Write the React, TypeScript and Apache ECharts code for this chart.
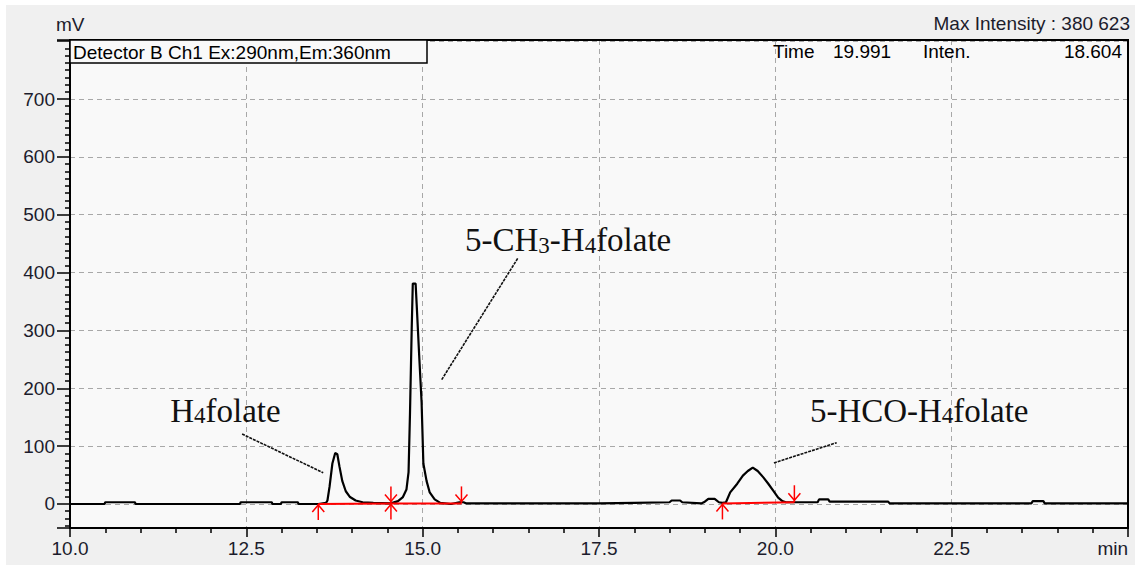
import React, { useEffect, useRef } from "react";
import * as echarts from "echarts";

// ---- Chromatogram trace (retention time in min, signal in mV) ----
const traceTime = [
  10.0, 10.49, 10.5, 10.92, 10.93, 12.41, 12.42, 12.86, 12.87, 12.99, 13.0, 13.23, 13.24, 13.52,
  13.63, 13.65, 13.68, 13.72, 13.76, 13.79, 13.82, 13.86, 13.91, 13.97, 14.05, 14.15, 14.3, 14.55,
  14.65, 14.72, 14.77, 14.8, 14.82, 14.845, 14.86, 14.9, 14.915, 14.95, 14.985, 15.01, 15.055, 15.1,
  15.17, 15.25, 15.4, 15.52, 15.58, 15.62, 16.5, 17.5, 18.0, 18.5, 18.53, 18.65, 18.68, 18.95, 19.0,
  19.05, 19.14, 19.2, 19.25, 19.3, 19.36, 19.46, 19.54, 19.61, 19.68, 19.75, 19.83, 19.9, 19.97,
  20.04, 20.1, 20.15, 20.6, 20.62, 20.75, 20.77, 21.6, 21.62, 23.63, 23.65, 23.8, 23.82, 25.0,
];
const traceMv = [
  0, 0, 3, 3, 0, 0, 3, 3, 0, 0, 3, 3, 0, 0,
  2, 6, 30, 70, 88, 86, 65, 40, 22, 12, 6, 3, 2, 1,
  5, 12, 25, 55, 155, 305, 381, 381, 345, 258, 175, 70, 40, 20,
  8, 2, 0, 3, 3, 1, 1, 1, 2, 3, 6, 6, 3, 1, 4,
  9, 9, 3, 2, 3, 20, 35, 49, 57, 63, 57, 46, 35, 23,
  11, 5, 3, 3, 8, 8, 4, 4, 1, 1, 5, 5, 1, 1,
];

// ---- Integration baselines (red) ----
const baselineStartTime = [13.52, 14.55, 19.25];
const baselineEndTime = [14.55, 15.55, 20.27];
const baselineStartMv = [0, 1, 1];
const baselineEndMv = [1, 1, 3];

// ---- Integration marks: 0 = peak start, 1 = split, 2 = peak end ----
const markTime = [13.52, 14.55, 15.55, 19.25, 20.27];
const markMv = [0, 1, 1, 1, 3];
const markKind = [0, 1, 2, 0, 2];

// ---- Peak annotations ----
const annotationText = ["H{s|4}folate", "5-CH{s|3}-H{s|4}folate", "5-HCO-H{s|4}folate"];
const annotationTime = [11.42, 15.6, 20.49];
const annotationMv = [161, 456, 161];
const leaderFromTime = [12.44, 15.27, 19.98];
const leaderFromMv = [121, 215, 71];
const leaderToTime = [13.59, 16.35, 20.87];
const leaderToMv = [54, 425, 106];

// ---- Axis tick labels ----
const xTickLabels = ["10.0", "12.5", "15.0", "17.5", "20.0", "22.5", "min"];
const yTickValues = [0, 100, 200, 300, 400, 500, 600, 700];

// ---- Header texts ----
const detectorLabel = "Detector B Ch1 Ex:290nm,Em:360nm";
const maxIntensityLabel = "Max Intensity : 380 623";
const cursorTime = "19.991";
const cursorInten = "18.604";

const W = 1135;
const H = 565;
const GRID = { left: 70, top: 40, right: 7, bottom: 37 };
const SANS = "'Liberation Sans', Arial, sans-serif";
const SERIF = "'Liberation Serif', 'Times New Roman', serif";
const TXT = "#1c1c2c";

export default function App() {
  const ref = useRef<HTMLDivElement>(null);

  useEffect(() => {
    if (!ref.current) return;
    const chart = echarts.init(ref.current, undefined, { renderer: "svg" });

    const trace = traceTime.map((t, i) => [t, traceMv[i]]);
    const marks = markTime.map((t, i) => [t, markMv[i], markKind[i]]);
    const annotations = annotationText.map((_, i) => [annotationTime[i], annotationMv[i], i]);

    const redStyle = { stroke: "#ff0000", lineWidth: 1.5, fill: null };

    const plotW = W - GRID.left - GRID.right;
    const plotH = H - GRID.top - GRID.bottom;

    const option: any = {
      animation: false,
      backgroundColor: "#ffffff",
      grid: {
        left: GRID.left,
        top: GRID.top,
        right: GRID.right,
        bottom: GRID.bottom,
        show: true,
        backgroundColor: "#f9f9f9",
        borderWidth: 0,
      },
      xAxis: {
        type: "value",
        min: 10,
        max: 25,
        interval: 2.5,
        axisLine: { show: true, onZero: false, lineStyle: { color: "#000", width: 2 } },
        axisTick: { show: true, length: 9, lineStyle: { color: "#000", width: 1.5 } },
        minorTick: { show: true, splitNumber: 5, length: 5, lineStyle: { color: "#000", width: 1.5 } },
        splitLine: { show: true, lineStyle: { color: "#a8a8a8", type: [5, 4], width: 1 } },
        axisLabel: {
          color: TXT,
          fontFamily: SANS,
          fontSize: 19,
          margin: 11,
          alignMaxLabel: "right",
          formatter: (_v: number, idx: number) => xTickLabels[idx] ?? "",
        },
      },
      yAxis: {
        type: "value",
        min: -41.5,
        max: 802,
        splitNumber: 8,
        minInterval: 100,
        maxInterval: 100,
        axisLine: { show: true, onZero: false, lineStyle: { color: "#000", width: 2 } },
        axisTick: { show: true, length: 13, lineStyle: { color: "#000", width: 1.5 } },
        minorTick: { show: true, splitNumber: 8, length: 5, lineStyle: { color: "#000", width: 1.5 } },
        splitLine: { show: true, lineStyle: { color: "#a8a8a8", type: [5, 4], width: 1 } },
        axisLabel: {
          color: TXT,
          fontFamily: SANS,
          fontSize: 19,
          margin: 15,
          showMinLabel: false,
          formatter: (v: number) => (yTickValues.indexOf(Math.round(v * 1000) / 1000) >= 0 ? String(v) : ""),
        },
      },
      series: [
        {
          type: "line",
          data: trace,
          showSymbol: false,
          symbol: "none",
          lineStyle: { color: "#000", width: 2.2 },
          z: 3,
        },
        ...baselineStartTime.map((t, i) => ({
          type: "line",
          data: [
            [t, baselineStartMv[i]],
            [baselineEndTime[i], baselineEndMv[i]],
          ],
          showSymbol: false,
          symbol: "none",
          lineStyle: { color: "#ff0000", width: 2 },
          z: 4,
        })),
        {
          type: "custom",
          data: marks,
          encode: { x: 0, y: 1 },
          z: 5,
          renderItem: (_p: any, api: any) => {
            const pt = api.coord([api.value(0), api.value(1)]);
            const x = pt[0];
            const y = pt[1];
            const kind = api.value(2);
            const children: any[] = [];
            if (kind === 0 || kind === 1) {
              children.push({ type: "line", shape: { x1: x, y1: y, x2: x, y2: y + 16 }, style: redStyle });
              children.push({
                type: "polyline",
                shape: { points: [[x - 6, y + 8], [x, y + 1], [x + 6, y + 8]] },
                style: redStyle,
              });
            }
            if (kind === 1 || kind === 2) {
              children.push({ type: "line", shape: { x1: x, y1: y - 17, x2: x, y2: y }, style: redStyle });
              children.push({
                type: "polyline",
                shape: { points: [[x - 6, y - 9], [x, y - 2], [x + 6, y - 9]] },
                style: redStyle,
              });
            }
            return { type: "group", children };
          },
        },
        {
          type: "custom",
          data: annotations,
          encode: { x: 0, y: 1 },
          z: 6,
          renderItem: (params: any, api: any) => {
            const i = params.dataIndex;
            const p = api.coord([annotationTime[i], annotationMv[i]]);
            const a = api.coord([leaderFromTime[i], leaderFromMv[i]]);
            const b = api.coord([leaderToTime[i], leaderToMv[i]]);
            return {
              type: "group",
              children: [
                {
                  type: "line",
                  shape: { x1: a[0], y1: a[1], x2: b[0], y2: b[1] },
                  style: { stroke: "#111", lineWidth: 1.6, lineDash: [3, 1] },
                },
                {
                  type: "text",
                  x: p[0],
                  y: p[1],
                  style: {
                    text: annotationText[i],
                    fontFamily: SERIF,
                    fontSize: 33,
                    fill: "#111",
                    align: "left",
                    verticalAlign: "middle",
                    rich: {
                      s: { fontSize: 23, fontFamily: SERIF, fill: "#111", verticalAlign: "bottom" },
                    },
                  },
                },
              ],
            };
          },
        },
      ],
      graphic: [
        {
          type: "rect",
          silent: true,
          z: -10,
          shape: { x: 6, y: 5, width: W - 6, height: H - 5 },
          style: { fill: "#f0f0f0" },
        },
        {
          type: "rect",
          z: 50,
          silent: true,
          shape: { x: GRID.left, y: GRID.top, width: plotW, height: plotH },
          style: { fill: null, stroke: "#000", lineWidth: 2 },
        },
        {
          type: "rect",
          z: 51,
          silent: true,
          shape: { x: GRID.left, y: GRID.top, width: 357, height: 23 },
          style: { fill: "#f9f9f9", stroke: "#000", lineWidth: 1.5 },
        },
        {
          type: "text",
          z: 52,
          x: 73,
          y: 52,
          style: { text: detectorLabel, fontFamily: SANS, fontSize: 19, fill: "#000", verticalAlign: "middle" },
        },
        {
          type: "text",
          z: 52,
          x: 56,
          y: 24,
          style: { text: "mV", fontFamily: SANS, fontSize: 19, fill: TXT, verticalAlign: "middle" },
        },
        {
          type: "text",
          z: 52,
          x: 1130,
          y: 23,
          style: { text: maxIntensityLabel, fontFamily: SANS, fontSize: 19, fill: TXT, align: "right", verticalAlign: "middle" },
        },
        {
          type: "text",
          z: 52,
          x: 773,
          y: 51,
          style: { text: "Time", fontFamily: SANS, fontSize: 19, fill: "#000", verticalAlign: "middle" },
        },
        {
          type: "text",
          z: 52,
          x: 833,
          y: 51,
          style: { text: cursorTime, fontFamily: SANS, fontSize: 19, fill: "#000", verticalAlign: "middle" },
        },
        {
          type: "text",
          z: 52,
          x: 923,
          y: 51,
          style: { text: "Inten.", fontFamily: SANS, fontSize: 19, fill: "#000", verticalAlign: "middle" },
        },
        {
          type: "text",
          z: 52,
          x: 1122,
          y: 51,
          style: { text: cursorInten, fontFamily: SANS, fontSize: 19, fill: "#000", align: "right", verticalAlign: "middle" },
        },
      ],
    };

    chart.setOption(option);
    return () => chart.dispose();
  }, []);

  return (
    <div
      ref={ref}
      style={{ position: "fixed", left: 0, top: 0, width: W, height: H }}
    />
  );
}
